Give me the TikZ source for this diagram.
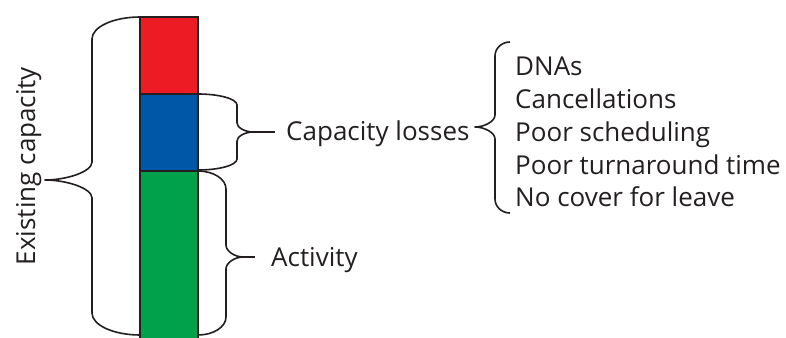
\documentclass[tikz,border=0pt]{standalone}
\usepackage{fontspec}
\setmainfont{Open Sans}
\definecolor{barred}{RGB}{237,28,36}
\definecolor{barblue}{RGB}{0,87,168}
\definecolor{bargreen}{RGB}{0,161,75}
\definecolor{ink}{RGB}{35,31,32}
% #1 end x, #2 top y, #3 bottom y, #4 spine x, #5 tip x, #6 tip y, #7 end radius, #8 tip radius
\newcommand\mybrace[8]{%
  \draw[brace] (#1,#2) .. controls ({#1+0.552*(#4-#1)},#2) and (#4,{#2+0.448*#7}) .. (#4,#2+#7)
    -- (#4,#6-#8) .. controls (#4,{#6-0.448*#8}) and ({#5+0.448*(#4-#5)},#6) .. (#5,#6)
    .. controls ({#5+0.448*(#4-#5)},#6) and (#4,{#6+0.448*#8}) .. (#4,#6+#8)
    -- (#4,#3-#7) .. controls (#4,{#3-0.448*#7}) and ({#1+0.552*(#4-#1)},#3) .. (#1,#3);}
\begin{document}
\begin{tikzpicture}[x=1pt,y=-1pt,
  seg/.style={draw=ink, line width=2pt, minimum width=58pt, inner sep=0pt, outer sep=0pt, anchor=north west},
  brace/.style={draw=ink, line width=1.6pt, line join=round},
  lbl/.style={font=\fontsize{26}{30}\selectfont, text=ink, inner sep=0pt, anchor=base west}]
\useasboundingbox (0,0) rectangle (786,337);
% bar
\node[seg, fill=barred, minimum height=77pt] (red) at (140,17) {};
\node[seg, fill=barblue, minimum height=77pt] (blue) at (140,94) {};
\node[seg, fill=bargreen, minimum height=175pt] (green) at (140,171) {};
% braces
\mybrace{140}{17}{335}{92}{45}{180}{22}{18}
\mybrace{198}{94}{170}{237}{253}{132}{11}{9}
\draw[brace] (253,132) -- (275,132);
\mybrace{198}{171}{335}{226}{243}{257}{18}{12}
\draw[brace] (243,257) -- (255,257);
\mybrace{510}{42}{213}{495}{475}{127}{14}{12}
% labels
\node[lbl, rotate=90, anchor=base] (ec) at (35,166) {Existing capacity};
\node[lbl] (cl) at (286,140) {Capacity losses};
\node[lbl] (act) at (271,266) {Activity};
\node[lbl] (i1) at (515,75) {DNAs};
\node[lbl] (i2) at (515,108) {Cancellations};
\node[lbl] (i3) at (515,141) {Poor scheduling};
\node[lbl] (i4) at (515,174) {Poor turnaround time};
\node[lbl] (i5) at (515,206) {No cover for leave};
\end{tikzpicture}
\end{document}
